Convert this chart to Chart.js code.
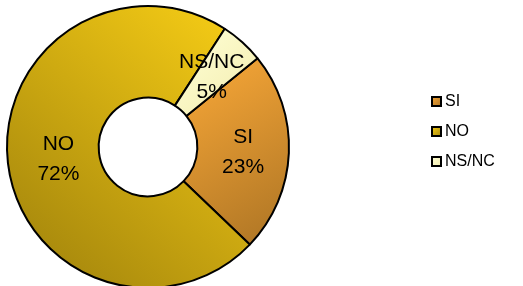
<!DOCTYPE html>
<html lang="es">
<head>
  <meta charset="UTF-8">
  <title>SI / NO / NS-NC</title>
  <script src="https://cdn.jsdelivr.net/npm/chart.js"></script>
  <style>
    html, body { margin: 0; padding: 0; background: #fff; overflow: hidden; }
    #wrap { width: 523px; height: 286px; overflow: hidden; }
  </style>
</head>
<body>
  <div id="wrap">
    <canvas id="donut" width="523" height="290"></canvas>
  </div>

  <script>
    const categories = ["SI", "NO", "NS/NC"];
    const values = [23, 72, 5];
    // gradient colours per slice: [light, dark]
    const sliceColors = [
      ["#F9A838", "#AC7424"],
      ["#FAD016", "#A2840C"],
      ["#FFFFD6", "#F2ECAE"]
    ];

    const fontFamily = "'Liberation Sans', Arial, sans-serif";

    function sliceGradient(ctx, i, area) {
      let g;
      if (i === 0) {
        g = ctx.createLinearGradient(area.left + 180, area.top + 55, area.right, area.bottom - 45);
      } else if (i === 1) {
        g = ctx.createLinearGradient(area.right - 40, area.top, area.left + 10, area.bottom - 20);
      } else {
        g = ctx.createLinearGradient(area.left + 170, area.top + 30, area.left + 250, area.top + 110);
      }
      g.addColorStop(0, sliceColors[i][0]);
      g.addColorStop(1, sliceColors[i][1]);
      return g;
    }

    // labels inside the ring + legend on the right
    const labelPlugin = {
      id: "sliceLabels",
      afterDraw(chart) {
        const ctx = chart.ctx;
        const arcs = chart.getDatasetMeta(0).data;
        const total = values.reduce((a, b) => a + b, 0);
        ctx.save();
        ctx.fillStyle = "#000";
        ctx.textAlign = "center";
        ctx.textBaseline = "middle";
        ctx.font = "21px " + fontFamily;
        arcs.forEach((arc, i) => {
          const p = arc.tooltipPosition();
          const dx = i === 1 ? 5 : 0;   // Excel keeps the big label a bit inward
          const pct = Math.round(values[i] / total * 100) + "%";
          ctx.fillText(categories[i], p.x + dx, p.y - 14);
          ctx.fillText(pct, p.x + dx, p.y + 16);
        });

        // legend
        ctx.textAlign = "left";
        ctx.font = "16px " + fontFamily;
        categories.forEach((c, i) => {
          const y = 96 + i * 30;
          const g = ctx.createLinearGradient(431, y, 442, y + 11);
          g.addColorStop(0, sliceColors[i][0]);
          g.addColorStop(1, sliceColors[i][1]);
          ctx.fillStyle = g;
          ctx.fillRect(432, y + 1, 9, 9);
          ctx.strokeStyle = "#000";
          ctx.lineWidth = 2;
          ctx.strokeRect(432, y + 1, 9, 9);
          ctx.fillStyle = "#000";
          ctx.fillText(c, 445, y + 6);
        });
        ctx.restore();
      }
    };

    new Chart(document.getElementById("donut"), {
      type: "doughnut",
      data: {
        labels: categories,
        datasets: [{
          data: values,
          backgroundColor: (c) => {
            const area = c.chart.chartArea;
            if (!area) return sliceColors[c.dataIndex][0];
            return sliceGradient(c.chart.ctx, c.dataIndex, area);
          },
          borderColor: "#000",
          borderWidth: 2
        }]
      },
      options: {
        responsive: false,
        animation: false,
        rotation: 51,
        cutout: "35%",
        layout: { padding: { left: 6, top: 5, right: 233, bottom: 1 } },
        plugins: {
          legend: { display: false },
          tooltip: { enabled: false }
        }
      },
      plugins: [labelPlugin]
    });
  </script>
</body>
</html>
